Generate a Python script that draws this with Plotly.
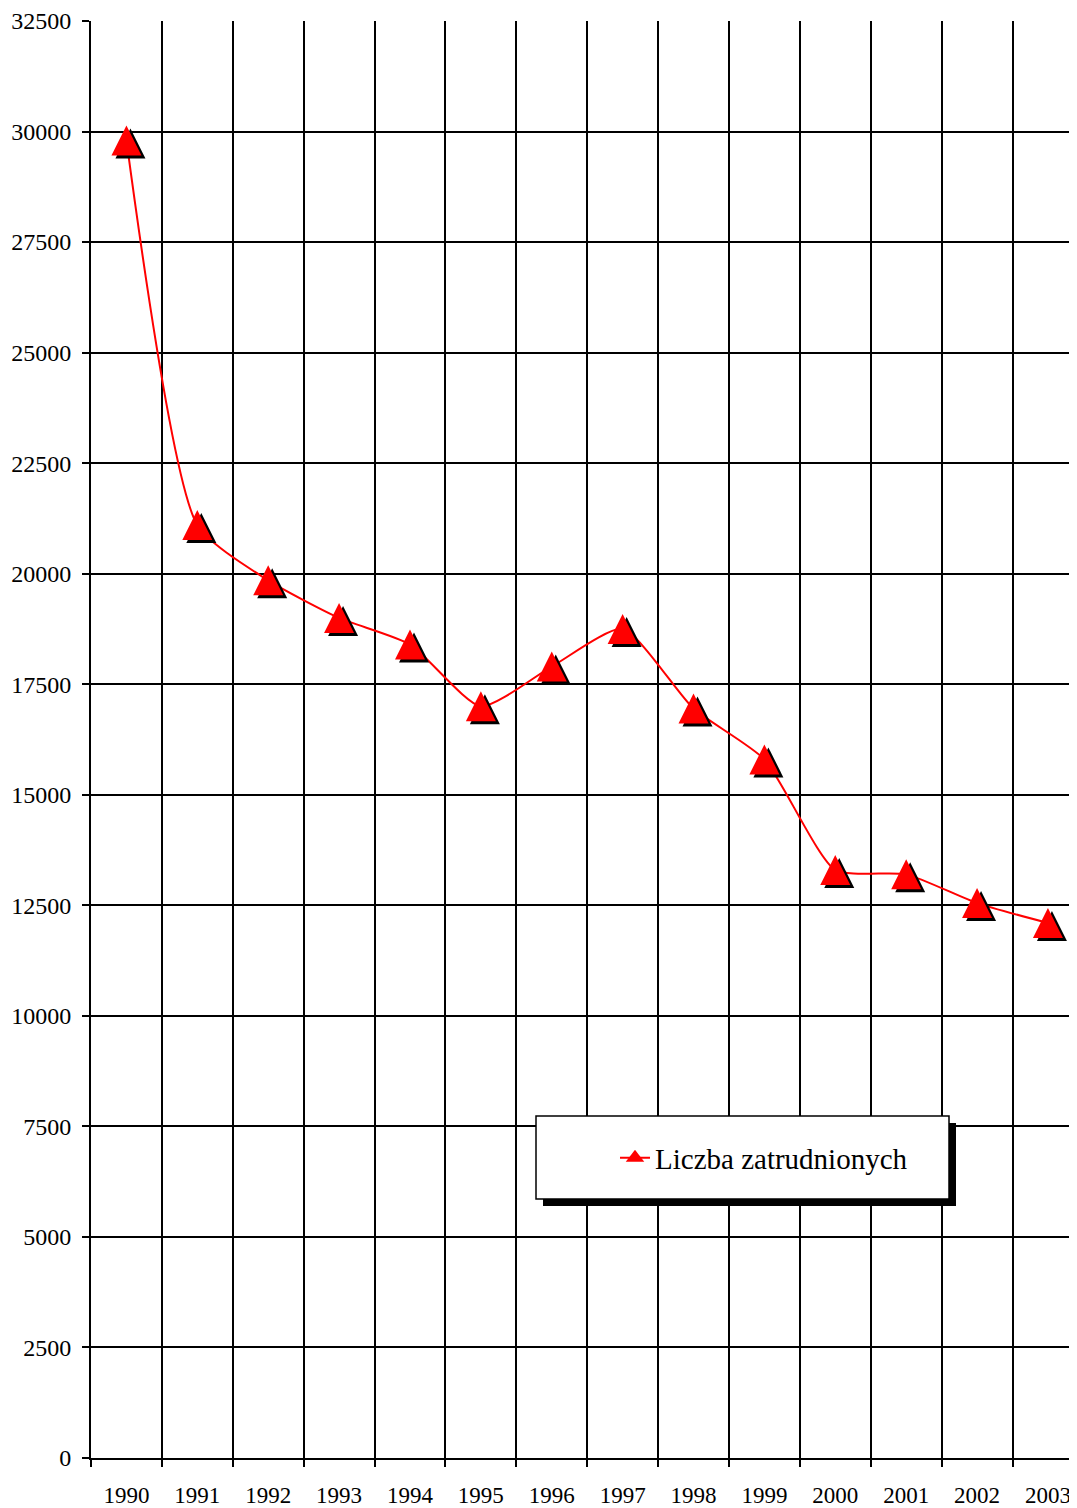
import plotly.graph_objects as go

# Liczba zatrudnionych 1990-2003 (odczyt z wykresu)
years = ["1990", "1991", "1992", "1993", "1994", "1995", "1996",
         "1997", "1998", "1999", "2000", "2001", "2002", "2003"]
employed = [29800, 21100, 19850, 19000, 18400, 17000, 17900,
            18750, 16950, 15800, 13300, 13200, 12550, 12100]
y_ticks = list(range(0, 32501, 2500))

OFF = 8                       # domyślny margines <body> w przeglądarce
W, H = 1077 - OFF, 1508 - OFF
L, T = 91 - OFF, 21 - OFF     # lewa / górna krawędź obszaru wykresu
plot_w = W - L
plot_h = 1458 - 21
B = H - T - plot_h

X_RANGE = [-0.5, 13.41]
Y_RANGE = [0, 32500]
px_x = (X_RANGE[1] - X_RANGE[0]) / plot_w   # jednostek osi na piksel
px_y = (Y_RANGE[1] - Y_RANGE[0]) / plot_h

MARK = 30          # rozmiar trójkąta (arrow-up: szer. = wys. = MARK)
SHADOW = (4, 3)    # przesunięcie cienia w px

SERIF = "Liberation Serif"
RED = "#ff0000"

fig = go.Figure()

# linia wygładzona
fig.add_trace(go.Scatter(
    x=years, y=employed, mode="lines",
    line=dict(color=RED, width=2, shape="spline", smoothing=0.6),
    showlegend=False, hoverinfo="skip",
))

# cień znaczników (osie przesunięte o kilka pikseli)
fig.add_trace(go.Scatter(
    x=years, y=employed, mode="markers", xaxis="x2", yaxis="y2",
    marker=dict(symbol="arrow-up", size=MARK, color="black", line=dict(width=0)),
    showlegend=False, hoverinfo="skip",
))

# czerwone trójkąty (środek trójkąta w punkcie danych)
fig.add_trace(go.Scatter(
    x=years, y=employed, mode="markers", xaxis="x3", yaxis="y3",
    marker=dict(symbol="arrow-up", size=MARK, color=RED, line=dict(width=0)),
    showlegend=False,
    hovertemplate="%{x}: %{y}<extra></extra>",
))

# wpis legendy
fig.add_trace(go.Scatter(
    x=[None], y=[None], mode="lines+markers",
    line=dict(color=RED, width=2),
    marker=dict(symbol="triangle-up", size=20, color=RED),
    name="Liczba zatrudnionych",
))

half = MARK / 2
hidden = dict(visible=False, fixedrange=True)
fig.update_layout(
    width=W, height=H,
    margin=dict(l=L, r=0, t=T, b=B, autoexpand=False),
    paper_bgcolor="white", plot_bgcolor="white",
    font=dict(family=SERIF, color="black"),
    xaxis=dict(
        type="category", range=X_RANGE, tickson="boundaries",
        showgrid=True, gridcolor="black", gridwidth=2,
        showline=True, linecolor="black", linewidth=2,
        ticks="outside", ticklen=7, tickwidth=2, tickcolor="black",
        tickfont=dict(family=SERIF, size=23, color="black"),
        ticklabelstandoff=15, zeroline=False, automargin=False,
    ),
    yaxis=dict(
        range=Y_RANGE, tickvals=y_ticks, tickformat="d",
        showgrid=True, gridcolor="black", gridwidth=2,
        showline=True, linecolor="black", linewidth=2,
        ticks="outside", ticklen=7, tickwidth=2, tickcolor="black",
        tickfont=dict(family=SERIF, size=24, color="black"),
        ticklabelstandoff=6, zeroline=False, automargin=False,
    ),
    xaxis2=dict(hidden, type="category", overlaying="x",
                range=[X_RANGE[0] - SHADOW[0] * px_x, X_RANGE[1] - SHADOW[0] * px_x]),
    yaxis2=dict(hidden, overlaying="y",
                range=[Y_RANGE[0] - (half - SHADOW[1]) * px_y,
                       Y_RANGE[1] - (half - SHADOW[1]) * px_y]),
    xaxis3=dict(hidden, type="category", overlaying="x", range=X_RANGE),
    yaxis3=dict(hidden, overlaying="y",
                range=[Y_RANGE[0] - half * px_y, Y_RANGE[1] - half * px_y]),
    legend=dict(
        x=(615 - 91) / plot_w, y=(1458 - 1158) / plot_h,
        xanchor="left", yanchor="middle",
        bgcolor="rgba(0,0,0,0)", borderwidth=0,
        font=dict(family=SERIF, size=29, color="black"),
        itemsizing="trace",
    ),
    showlegend=True,
)


def px_to_paper(x0, y0, x1, y1):
    # współrzędne w pikselach strony -> paper
    return dict(xref="paper", yref="paper",
                x0=(x0 - 91) / plot_w, x1=(x1 - 91) / plot_w,
                y0=(1458 - y0) / plot_h, y1=(1458 - y1) / plot_h)


# ramka legendy z cieniem
fig.add_shape(type="rect", **px_to_paper(543, 1123, 956, 1206),
              fillcolor="black", line=dict(width=0), layer="above")
fig.add_shape(type="rect", **px_to_paper(536, 1116, 949, 1199),
              fillcolor="white", line=dict(color="black", width=1.5), layer="above")

fig.write_html("out.html")
